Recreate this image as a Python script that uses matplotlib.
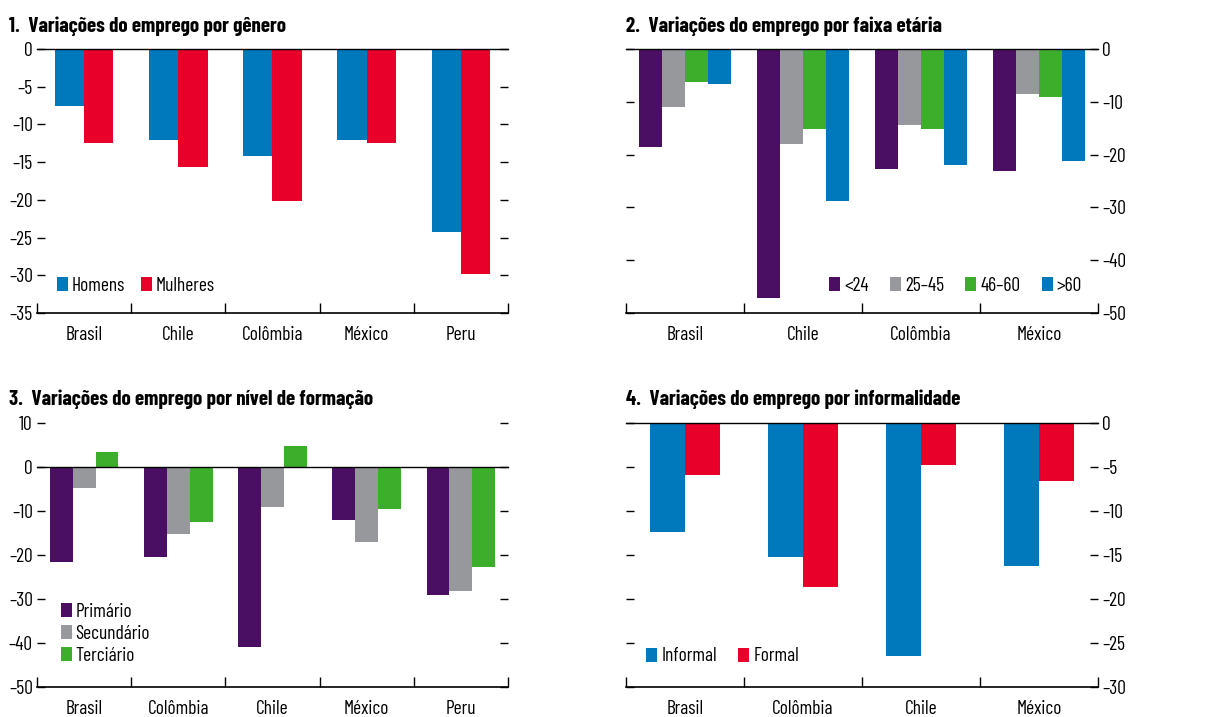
import numpy as np
import matplotlib
matplotlib.use("Agg")
import matplotlib.pyplot as plt
from matplotlib.ticker import FixedLocator, FuncFormatter

plt.rcParams['font.family'] = ['Barlow Condensed Medium', 'Barlow Condensed',
                               'Roboto Condensed', 'DejaVu Sans']
TITLE_FONT = ['Barlow Condensed', 'Roboto Condensed', 'DejaVu Sans']

# ---------------- Data ----------------
# 1. gender
p1_countries = ['Brasil', 'Chile', 'Colômbia', 'México', 'Peru']
p1_series = ['Homens', 'Mulheres']
homens = [-7.6, -12.1, -14.2, -12.1, -24.2]
mulheres = [-12.4, -15.6, -20.2, -12.4, -29.8]

# 2. age group
p2_countries = ['Brasil', 'Chile', 'Colômbia', 'México']
p2_series = ['<24', '25–45', '46–60', '>60']
age_lt24 = [-18.6, -47.2, -22.8, -23.2]
age_25_45 = [-10.9, -17.9, -14.3, -8.5]
age_46_60 = [-6.3, -15.2, -15.2, -9.0]
age_gt60 = [-6.6, -28.7, -22.0, -21.3]

# 3. education
p3_countries = ['Brasil', 'Colômbia', 'Chile', 'México', 'Peru']
p3_series = ['Primário', 'Secundário', 'Terciário']
primario = [-21.6, -20.5, -40.9, -12.0, -29.1]
secundario = [-4.8, -15.2, -9.1, -17.0, -28.2]
terciario = [3.3, -12.5, 4.7, -9.5, -22.7]

# 4. informality
p4_countries = ['Brasil', 'Colômbia', 'Chile', 'México']
p4_series = ['Informal', 'Formal']
informal = [-12.4, -15.2, -26.5, -16.25]
formal = [-5.9, -18.6, -4.8, -6.6]

BLUE = '#0079BC'
RED = '#E8002A'
PURPLE = '#4A0F62'
GRAY = '#97989C'
GREEN = '#3DAE2B'

FS = 14
W, H = 1214, 717


def dash(v, pos=None):
    s = '%g' % v
    return s.replace('-', '\u2013')


def panel(rect, title, title_xy, cats, series, names, colors, group_w,
          ylim, yticks, label_side, legend_kw):
    ax = fig.add_axes([rect[0] / W, 1 - rect[3] / H, (rect[2] - rect[0]) / W,
                       (rect[3] - rect[1]) / H])
    n = len(series)
    bw = group_w / n
    x = np.arange(len(cats))
    for k, (vals, nm, c) in enumerate(zip(series, names, colors)):
        ax.bar(x - group_w / 2 + bw * (k + 0.5), vals, width=bw, color=c,
               label=nm, linewidth=0, zorder=2)
    ax.axhline(0, color='black', lw=1.0, zorder=3, clip_on=False)
    ax.set_xlim(-0.5, len(cats) - 0.5)
    ax.set_ylim(*ylim)
    for s in ['top', 'left', 'right']:
        ax.spines[s].set_visible(False)
    ax.spines['bottom'].set_linewidth(1.2)
    ax.set_xticks(x)
    ax.set_xticklabels(cats, fontsize=FS)
    ax.xaxis.set_minor_locator(FixedLocator(np.arange(len(cats) + 1) - 0.5))
    ax.tick_params(axis='x', which='major', length=0, pad=9.5)
    ax.tick_params(axis='x', which='minor', direction='in', length=7, width=1)
    ax.yaxis.set_major_locator(FixedLocator(yticks))
    ax.yaxis.set_major_formatter(FuncFormatter(dash))
    ax.tick_params(axis='y', direction='in', length=6, width=1, pad=3,
                   left=True, right=True,
                   labelleft=(label_side == 'left'),
                   labelright=(label_side == 'right'), labelsize=FS)
    leg = ax.legend(frameon=False, fontsize=FS, borderpad=0, borderaxespad=0,
                    handlelength=0.57, handleheight=0.72, handletextpad=0.2,
                    **legend_kw)
    leg.set_zorder(5)
    fig.text(title_xy[0] / W, 1 - title_xy[1] / H, title, fontsize=15.2,
             fontweight='bold', family=TITLE_FONT, va='baseline', ha='left')
    return ax


fig = plt.figure(figsize=(W / 100, H / 100), dpi=100)

panel((37, 49, 508, 313), '1.  Variações do emprego por gênero', (9, 32),
      p1_countries, [homens, mulheres], p1_series, [BLUE, RED], 0.62,
      (-35, 0), np.arange(-35, 1, 5), 'left',
      dict(loc='center left', bbox_to_anchor=(0.042, 0.102), ncol=2,
           columnspacing=0.8))

panel((626, 49, 1098, 313), '2.  Variações do emprego por faixa etária', (626, 32),
      p2_countries, [age_lt24, age_25_45, age_46_60, age_gt60], p2_series,
      [PURPLE, GRAY, GREEN, BLUE], 0.78,
      (-50, 0), np.arange(-50, 1, 10), 'right',
      dict(loc='center right', bbox_to_anchor=(0.966, 0.102), ncol=4,
           columnspacing=1.1))

panel((37, 423, 508, 687), '3.  Variações do emprego por nível de formação', (9, 405),
      p3_countries, [primario, secundario, terciario], p3_series,
      [PURPLE, GRAY, GREEN], 0.73,
      (-50, 10), np.arange(-50, 11, 10), 'left',
      dict(loc='upper left', bbox_to_anchor=(0.05, 0.319), ncol=1,
           labelspacing=0.2))

panel((626, 423, 1098, 687), '4.  Variações do emprego por informalidade', (626, 405),
      p4_countries, [informal, formal], p4_series, [BLUE, RED], 0.6,
      (-30, 0), np.arange(-30, 1, 5), 'right',
      dict(loc='center left', bbox_to_anchor=(0.043, 0.116), ncol=2,
           columnspacing=1.1))

fig.savefig('out.png', dpi=100)
